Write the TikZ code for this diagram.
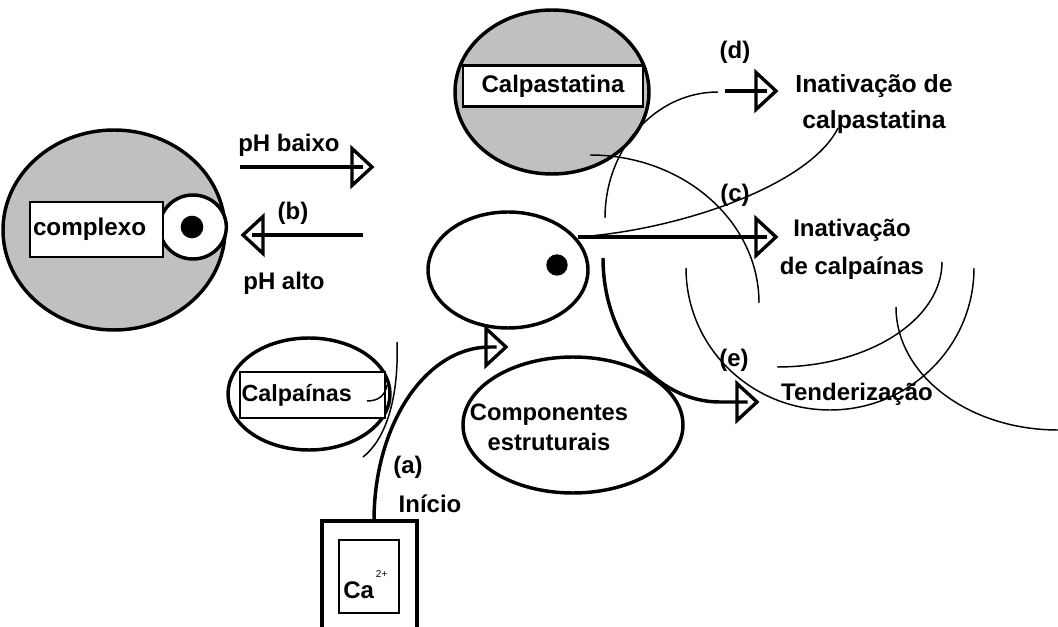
\documentclass[tikz,border=0pt]{standalone}
\usepackage{fontspec}
\setmainfont{Liberation Sans}
\usetikzlibrary{shapes.geometric}
\definecolor{cinza}{RGB}{192,192,192}
\begin{document}
\begin{tikzpicture}[x=0.75pt,y=-0.75pt,
  thickl/.style={line width=2.6pt},
  thinl/.style={line width=1.1pt},
  oval/.style={ellipse, draw, line width=2.6pt, inner sep=0pt},
  box/.style={rectangle, draw, fill=white, line width=2.2pt, inner sep=0pt},
  f/.style={font=\fontsize{18}{22}\selectfont\bfseries},
  txt/.style={f, inner sep=0pt, align=center},
  arrowline/.style={line width=2.6pt, shorten >=7pt},
  otri/.pic={\draw[line width=2.5pt, miter limit=10] (-20,-18.5) -- (0,0) -- (-20,18.5) -- cycle;},
  dot/.style={circle, fill=black, inner sep=0pt, minimum size=17pt}
]
\useasboundingbox (0,0) rectangle (1058,627);

% complexo
\node[oval, fill=cinza, minimum width=166.5pt, minimum height=150pt] (cpx) at (114,230) {};
\node[ellipse, draw, fill=white, line width=2.6pt, inner sep=0pt, minimum width=50pt, minimum height=48pt] (lobe) at (193,227) {};
\node[box, font=\fontsize{18.2}{22}\selectfont\bfseries, minimum width=99.75pt, minimum height=41.25pt, text width=95.25pt, inner xsep=2.25pt, align=left] (cpxbox) at (96.5,229.5) {complexo};
\node[dot] (cpxdot) at (192,227) {};

% Calpastatina
\node[oval, fill=cinza, minimum width=145.5pt, minimum height=123pt] (cst) at (552,92) {};
\node[box, f, minimum width=135pt, minimum height=30.75pt] (cstbox) at (553,86) {Calpastatina};

% central calpain
\node[oval, minimum width=120pt, minimum height=87pt] (calp) at (508,270) {};
\node[dot, minimum size=16pt] (calpdot) at (557,265) {};

% Calpainas
\node[oval, minimum width=121.5pt, minimum height=84pt] (cpn) at (309,394) {};
\node[box, font=\fontsize{17.5}{22}\selectfont\bfseries, minimum width=108.75pt, minimum height=34.5pt, text width=106.5pt, inner xsep=1.125pt, align=left] (cpnbox) at (312.5,395) {Calpaínas};

% Componentes estruturais
\node[oval, minimum width=165pt, minimum height=102pt] (comp) at (573,425) {};
\node[txt, font=\fontsize{17.8}{22.5}\selectfont\bfseries] (comptxt) at (549,427) {Componentes\\estruturais};

% Ca box
\coordinate (caBL) at (322,630);
\coordinate (caTL) at (322,521);
\coordinate (caTR) at (417,521);
\coordinate (caBR) at (417,630);
\draw[thickl] (caBL) -- (caTL) -- (caTR) -- (caBR);
\node[box, minimum width=45pt, minimum height=54.75pt] (cain) at (369,576.5) {};
\node[f, inner sep=0pt, anchor=base west] (catxt) at (343,598) {Ca\hspace{1.5pt}\raisebox{15.5pt}{\fontsize{7.5}{8}\selectfont\mdseries 2+}};

% arrows
\coordinate (pbS) at (240,167);
\coordinate (pbE) at (372,167);
\draw[arrowline] (pbS) -- (pbE);
\pic at (pbE) {otri};
\coordinate (bS) at (363,235);
\coordinate (bE) at (243,235);
\draw[arrowline] (bS) -- (bE);
\pic[rotate=180] at (bE) {otri};
\coordinate (cS) at (578,237);
\coordinate (cE) at (776,237);
\draw[arrowline] (cS) -- (cE);
\pic at (cE) {otri};
\coordinate (dS) at (725,91);
\coordinate (dE) at (776,91);
\draw[arrowline] (dS) -- (dE);
\pic at (dE) {otri};
\coordinate (eS) at (603,258);
\coordinate (eM) at (720,402);
\coordinate (eE) at (757,402);
\draw[arrowline] (eS) .. controls (603,337.5) and (655.4,402) .. (eM) -- (eE);
\pic at (eE) {otri};
\coordinate (caTop) at (374,521);
\coordinate (aM) at (490,347);
\coordinate (aE) at (506,347);
\draw[arrowline] (caTop) .. controls (374,424) and (426,347) .. (aM) -- (aE);
\pic at (aE) {otri};

% thin arcs
\draw[thinl] (605,218) .. controls (605,148.4) and (655.6,92) .. (718,92);
\draw[thinl] (590,155) .. controls (683.3,155) and (759,221.3) .. (759,303);
\draw[thinl] (578,237) .. controls (680,230) and (810,185) .. (838,128);
\draw[thinl] (397,342) .. controls (399,400) and (385,440) .. (363,457);
\draw[thinl] (367,401) .. controls (378,401) and (385,396) .. (387,385);
\draw[thinl] (686,268) .. controls (686,346.4) and (750.5,410) .. (830,410) .. controls (909.5,410) and (974,346.4) .. (974,268);
\draw[thinl] (777,367) .. controls (868,367) and (942,320) .. (942,262);
\draw[thinl] (896,307) .. controls (896,375) and (968.6,430) .. (1058,430);

% labels
\node[txt] (phb) at (289,145) {pH baixo};
\node[txt] (lb) at (293,213) {(b)};
\node[txt] (pha) at (284,283) {pH alto};
\node[txt] (ld) at (735,52) {(d)};
\node[txt, font=\fontsize{18.6}{27}\selectfont\bfseries] (icst) at (874,104) {Inativação de\\calpastatina};
\node[txt] (lc) at (735,195) {(c)};
\node[txt, font=\fontsize{18}{28.5}\selectfont\bfseries] (icpn) at (852,249) {Inativação\\de calpaínas};
\node[txt] (le) at (734,360) {(e)};
\node[txt] (tend) at (857,394) {Tenderização};
\node[txt] (la) at (408,467) {(a)};
\node[txt] (ini) at (430,504) {Início};
\end{tikzpicture}
\end{document}
